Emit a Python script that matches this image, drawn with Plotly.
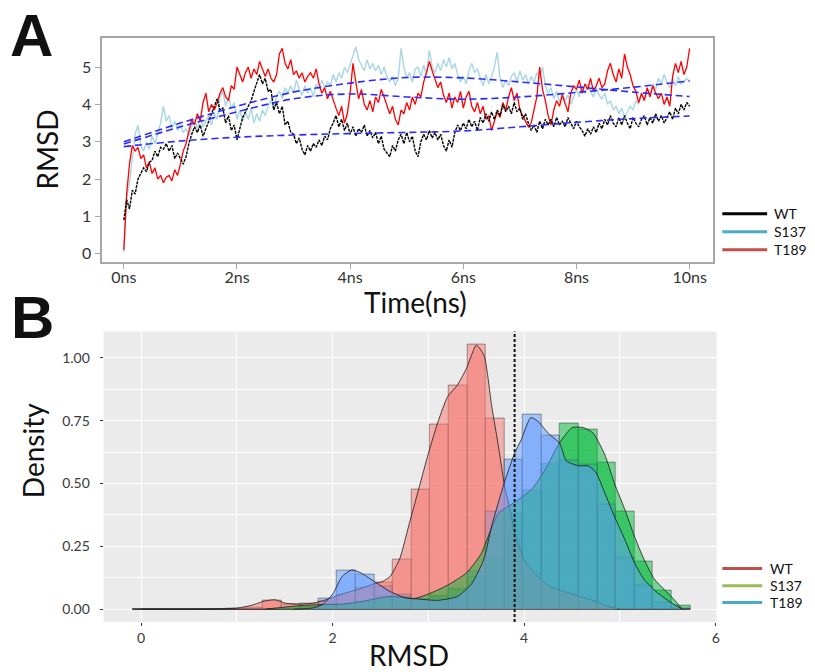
import plotly.graph_objects as go

# ---------------- Panel A data (RMSD vs time) ----------------
time_ns = [round(i * 0.05, 2) for i in range(201)]

rmsd_wt = [0.9, 1.45, 1.2, 1.7, 1.6, 2.0, 2.15, 2.3, 2.2, 2.45,
           2.5, 2.75, 2.6, 2.85, 2.8, 2.95, 2.75, 2.9, 2.55, 2.7,
           2.55, 2.4, 2.6, 2.95, 3.2, 3.4, 3.25, 3.45, 3.15, 3.35,
           3.55, 3.75, 3.95, 4.15, 3.85, 3.9, 3.5, 3.7, 3.3, 3.45,
           3.05, 3.35, 3.65, 3.8, 3.95, 4.1, 4.35, 4.6, 4.8, 4.55,
           4.7, 4.35, 4.4, 3.85, 4.05, 3.75, 3.95, 3.45, 3.55, 3.25,
           3.2, 2.95, 3.1, 2.8, 2.65, 2.9, 2.75, 2.95, 2.85, 3.05,
           2.9, 3.15, 3.05, 3.35, 3.5, 3.7, 3.4, 3.6, 3.3, 3.5,
           3.2, 3.4, 3.15, 3.35, 3.25, 3.45, 3.15, 3.3, 3.1, 3.25,
           2.95, 3.15, 2.8, 2.7, 2.6, 2.9, 2.75, 3.05, 3.2, 2.95,
           3.25, 3.0, 3.15, 2.75, 2.6, 3.0, 3.2, 3.05, 3.3, 3.1,
           3.25, 3.05, 3.2, 2.9, 2.75, 3.05, 2.85, 3.25, 3.45, 3.3,
           3.5, 3.35, 3.6, 3.4, 3.55, 3.3, 3.65, 3.5, 3.75, 3.55,
           3.8, 3.6, 3.85, 3.7, 4.0, 3.8, 3.95, 3.75, 4.05, 3.8,
           3.9, 3.6, 3.75, 3.5, 3.3, 3.45, 3.25, 3.55, 3.35, 3.6,
           3.45, 3.6, 3.4, 3.65, 3.45, 3.55, 3.4, 3.65, 3.5, 3.35,
           3.55, 3.4, 3.3, 3.15, 3.35, 3.2, 3.4, 3.25, 3.5, 3.35,
           3.6, 3.45, 3.7, 3.5, 3.4, 3.65, 3.45, 3.7, 3.5, 3.35,
           3.65, 3.5, 3.4, 3.6, 3.7, 3.45, 3.65, 3.5, 3.75, 3.55,
           3.7, 3.5, 3.65, 3.8, 3.6, 3.9, 3.75, 4.0, 3.85, 4.05,
           3.95]

rmsd_s137 = [0.05, 1.5, 1.9, 2.6, 3.2, 3.45, 2.9, 2.75, 3.0, 2.8,
             3.15, 2.95, 3.25, 3.5, 3.95, 3.55, 3.7, 3.35, 3.55, 3.3,
             3.45, 3.25, 3.35, 3.15, 3.4, 3.6, 3.35, 3.65, 3.4, 3.55,
             3.7, 3.45, 3.75, 3.6, 4.2, 4.35, 3.95, 4.2, 3.9, 4.05,
             3.6, 3.85, 3.55, 3.8, 3.6, 3.9, 3.5, 3.75, 3.55, 3.85,
             3.7, 3.95, 4.1, 3.9, 4.2, 4.35, 4.15, 4.45, 4.3, 4.5,
             4.3, 4.65, 4.4, 4.25, 4.5, 4.3, 4.45, 4.2, 4.55, 4.4,
             4.65, 4.45, 4.6, 4.5, 4.8, 4.6, 4.85, 4.7, 5.0, 4.85,
             5.05, 5.3, 5.55, 5.2, 5.05, 4.9, 5.2, 4.95, 5.1, 4.9,
             5.05, 4.8, 5.0, 4.75, 4.6, 4.75, 4.5, 4.7, 5.5, 5.0,
             4.7, 4.85, 4.6, 4.95, 5.0, 4.75, 5.05, 4.8, 5.45, 5.0,
             4.85, 5.1, 4.9, 5.2, 5.0, 5.25, 4.95, 5.1, 4.8, 4.6,
             4.75, 4.55, 4.9, 5.1, 4.85, 4.95, 4.7, 4.5, 4.8, 4.55,
             4.75, 5.0, 5.4, 4.7, 4.45, 4.65, 4.5, 4.75, 4.85, 4.6,
             4.9, 4.65, 4.8, 4.55, 4.75, 4.6, 4.85, 4.7, 5.0, 4.5,
             4.3, 4.45, 4.15, 4.35, 4.05, 4.3, 4.1, 4.25, 4.0, 4.2,
             4.4, 4.2, 4.5, 4.3, 4.55, 4.35, 4.2, 4.45, 4.25, 4.15,
             4.3, 4.0, 4.1, 3.85, 3.95, 3.75, 3.9, 3.65, 3.8, 3.95,
             3.85, 4.1, 4.0, 4.25, 4.15, 4.4, 4.3, 4.55, 4.4, 4.7,
             4.55, 4.8, 4.6, 4.45, 4.7, 4.5, 4.75, 4.55, 4.6, 4.7,
             4.6]

rmsd_t189 = [0.1, 1.6, 2.4, 2.9, 2.75, 2.85, 2.55, 2.65, 2.3, 2.45,
             2.15, 2.3, 2.0, 2.1, 1.9, 2.05, 2.1, 1.95, 2.25, 2.1,
             2.4, 2.75, 2.95, 3.3, 3.6, 3.45, 3.75, 3.55, 4.05, 4.3,
             3.8, 4.0, 3.85, 4.05, 4.3, 4.45, 4.2, 4.1, 4.5, 4.4,
             5.0, 4.8, 4.6, 4.85, 5.0, 4.7, 4.95, 4.8, 5.15, 4.95,
             4.75, 4.95, 4.7, 4.6, 4.8, 5.35, 5.5, 5.1, 4.95, 5.2,
             4.8, 4.9, 4.7, 4.85, 4.6, 4.75, 4.85, 4.7, 4.95, 4.55,
             4.3, 4.45, 4.15, 4.35, 4.1, 3.9, 3.7, 3.95, 3.5, 3.75,
             4.3, 5.1, 4.6, 4.15, 4.4, 4.0, 3.85, 4.1, 3.8, 4.2,
             4.05, 4.4, 4.2, 4.0, 3.75, 3.95, 3.6, 3.45, 3.85, 3.75,
             4.05, 3.85, 4.2, 4.0, 4.3, 4.2, 4.6, 4.85, 5.15, 4.9,
             4.7, 4.45, 4.6, 4.25, 4.05, 4.3, 3.9, 4.2, 4.05, 4.35,
             3.9, 4.2, 4.35, 3.95, 3.8, 4.05, 3.75, 3.95, 3.6, 3.7,
             3.3, 3.55, 3.8, 3.65, 4.05, 3.85, 4.2, 4.45, 4.1, 4.3,
             3.85, 3.7, 3.55, 3.4, 3.5, 3.9, 4.2, 5.0, 4.4, 4.1,
             3.7, 3.45, 3.85, 4.1, 3.95, 4.25, 4.05, 3.8, 4.3, 4.5,
             4.4, 4.65, 4.3, 4.55, 4.4, 4.7, 4.35, 4.5, 4.7, 4.45,
             4.55, 4.9, 5.1, 4.8, 4.6, 4.95, 4.7, 5.35, 5.0, 4.8,
             4.5, 4.35, 4.05, 4.3, 4.1, 4.45, 4.2, 4.5, 4.3, 4.15,
             4.3, 4.0, 4.2, 3.95, 4.75, 5.1, 4.85, 5.15, 4.8, 5.0,
             5.5]

trend_time = [0, 1, 2, 3, 4, 5, 6, 7, 8, 9, 10]
trend_wt = [2.87, 3.02, 3.12, 3.18, 3.22, 3.25, 3.29, 3.40, 3.52, 3.62, 3.69]
trend_s137 = [3.0, 3.5, 3.95, 4.33, 4.57, 4.72, 4.71, 4.6, 4.47, 4.33, 4.21]
trend_t189 = [2.94, 3.4, 3.8, 4.15, 4.28, 4.2, 4.14, 4.2, 4.32, 4.46, 4.63]

time_ticks = [0, 2, 4, 6, 8, 10]
time_ticklabels = ["0ns", "2ns", "4ns", "6ns", "8ns", "10ns"]

# ---------------- Panel B data (density histograms) ----------------
bin_edges = [-0.089, 0.105, 0.299, 0.493, 0.687, 0.882, 1.076, 1.270, 1.464, 1.658,
             1.852, 2.046, 2.240, 2.434, 2.628, 2.822, 3.017, 3.211, 3.405, 3.599,
             3.793, 3.987, 4.181, 4.375, 4.570, 4.764, 4.958, 5.152, 5.346, 5.540, 5.734]

hist_wt = [0, 0, 0, 0, 0, 0.002, 0.008, 0.035, 0.02, 0.022,
           0.03, 0.055, 0.085, 0.106, 0.199, 0.474, 0.735, 0.890, 1.053, 0.758,
           0.30, 0.14, 0.08, 0.06, 0.03, 0.01, 0, 0, 0, 0]
hist_s137 = [0, 0, 0, 0, 0, 0, 0, 0, 0.003, 0.01,
             0.02, 0.02, 0.03, 0.05, 0.05, 0.04, 0.055, 0.08, 0.13, 0.2,
             0.38, 0.47, 0.58, 0.739, 0.713, 0.583, 0.387, 0.188, 0.075, 0.016]
hist_t189 = [0, 0, 0, 0, 0, 0, 0, 0, 0, 0.008,
             0.044, 0.152, 0.139, 0.09, 0.06, 0.04, 0.045, 0.075, 0.15, 0.387,
             0.596, 0.775, 0.689, 0.59, 0.576, 0.417, 0.205, 0.093, 0.026, 0.004]

dens_wt_x = [0.0, 0.6, 1.0, 1.15, 1.3, 1.4, 1.5, 1.65, 1.8, 1.93, 2.07, 2.27, 2.42, 2.52,
             2.6, 2.7, 2.8, 2.9, 3.0, 3.1, 3.2, 3.3, 3.4, 3.5, 3.58, 3.66, 3.73, 3.8,
             3.85, 3.9, 4.0, 4.1, 4.25, 4.5, 4.75, 4.9, 5.0]
dens_wt_y = [0.0, 0.0, 0.004, 0.015, 0.033, 0.037, 0.024, 0.02, 0.024, 0.037, 0.057, 0.079, 0.099, 0.11,
             0.13, 0.2, 0.34, 0.48, 0.62, 0.745, 0.845, 0.89, 0.96, 1.05, 1.01, 0.81, 0.65, 0.48,
             0.40, 0.305, 0.195, 0.145, 0.093, 0.06, 0.03, 0.008, 0.0]

dens_s137_x = [1.3, 1.5, 1.7, 1.9, 2.1, 2.3, 2.5, 2.6, 2.7, 2.85, 3.0, 3.2, 3.4, 3.55, 3.73,
               3.9, 4.08, 4.22, 4.37, 4.5, 4.62, 4.72, 4.84, 4.94, 5.05, 5.15, 5.25, 5.36,
               5.46, 5.56, 5.65]
dens_s137_y = [0.0, 0.008, 0.015, 0.018, 0.02, 0.03, 0.045, 0.05, 0.048, 0.042, 0.06, 0.095, 0.145, 0.22, 0.38,
               0.425, 0.477, 0.556, 0.662, 0.722, 0.722, 0.70, 0.616, 0.503, 0.397, 0.291, 0.199, 0.119,
               0.079, 0.04, 0.0]

dens_t189_x = [1.6, 1.8, 1.9, 2.0, 2.1, 2.2, 2.3, 2.45, 2.6, 2.75, 2.9, 3.1, 3.3, 3.45, 3.58,
               3.66, 3.79, 3.9, 3.97, 4.07, 4.15, 4.25, 4.37, 4.44, 4.57, 4.67, 4.75, 4.84,
               4.94, 5.05, 5.15, 5.25, 5.39, 5.53, 5.65]
dens_t189_y = [0.0, 0.005, 0.02, 0.06, 0.13, 0.156, 0.143, 0.106, 0.07, 0.046, 0.04, 0.035, 0.05, 0.1, 0.2,
               0.33, 0.5, 0.62, 0.675, 0.762, 0.745, 0.70, 0.66, 0.59, 0.57, 0.57, 0.543, 0.464,
               0.371, 0.278, 0.186, 0.119, 0.066, 0.027, 0.0]

threshold_rmsd = 3.9
density_ticks = [0, 0.25, 0.5, 0.75, 1.0]
density_ticklabels = ["0.00", "0.25", "0.50", "0.75", "1.00"]
rmsd_ticks = [0, 2, 4, 6]

groups = ["WT", "S137", "T189"]

# ---------------- styling / layout helpers ----------------
FONT = "Lato"
W, H = 815, 672


def px(x):
    return x / W


def py(y):
    return 1 - y / H


fig = go.Figure()

# Panel A traces
line_specs = [
    (rmsd_s137, "#a9d6e5", None, 1.4),
    (rmsd_t189, "#ff0000", None, 1.3),
    (rmsd_wt, "#000000", "3px,1px", 1.4),
]
for vals, col, dash, wd in line_specs:
    fig.add_trace(go.Scatter(x=time_ns, y=vals, mode="lines",
                             line=dict(color=col, width=wd, dash=dash),
                             xaxis="x", yaxis="y", hoverinfo="skip"))
for tr in (trend_wt, trend_s137, trend_t189):
    fig.add_trace(go.Scatter(x=trend_time, y=tr, mode="lines",
                             line=dict(color="#2b2bff", width=1.6, dash="7px,4px", shape="spline"),
                             xaxis="x", yaxis="y", hoverinfo="skip"))

# Panel B: histograms
centers = [(bin_edges[i] + bin_edges[i + 1]) / 2 for i in range(len(bin_edges) - 1)]
widths = [bin_edges[i + 1] - bin_edges[i] for i in range(len(bin_edges) - 1)]
hist_cols = ["rgba(248,118,109,0.5)", "rgba(0,186,56,0.5)", "rgba(97,156,255,0.5)"]
for vals, col in zip((hist_wt, hist_s137, hist_t189), hist_cols):
    fig.add_trace(go.Bar(x=centers, y=vals, width=widths, marker=dict(color=col,
                         line=dict(color="rgba(40,40,40,0.55)", width=0.8)),
                         xaxis="x2", yaxis="y2", hoverinfo="skip"))

# baseline of zero-height bins
fig.add_trace(go.Scatter(x=[bin_edges[0], bin_edges[-1]], y=[0, 0], mode="lines",
                         line=dict(color="rgba(30,30,30,0.6)", width=0.8),
                         xaxis="x2", yaxis="y2", hoverinfo="skip"))

dens_cols = ["rgba(248,118,109,0.5)", "rgba(0,186,56,0.5)", "rgba(97,156,255,0.5)"]
for xs, ys, col in zip((dens_wt_x, dens_s137_x, dens_t189_x),
                       (dens_wt_y, dens_s137_y, dens_t189_y), dens_cols):
    fig.add_trace(go.Scatter(x=xs, y=ys, mode="lines", fill="tozeroy", fillcolor=col,
                             line=dict(color="rgba(20,20,20,0.85)", width=0.9, shape="spline",
                                       smoothing=0.6),
                             xaxis="x2", yaxis="y2", hoverinfo="skip"))

axA = dict(showline=True, mirror=True, linecolor="#a6a6a6", linewidth=1.5,
           ticks="outside", ticklen=6, tickcolor="#a6a6a6", tickwidth=1.2,
           showgrid=False, zeroline=False,
           tickfont=dict(family=FONT, size=16, color="#333333"))

fig.update_layout(
    width=W, height=H, autosize=False,
    margin=dict(l=0, r=0, t=0, b=0),
    paper_bgcolor="white", plot_bgcolor="white",
    showlegend=False, barmode="overlay", bargap=0,
    xaxis=dict(domain=[px(102.7), px(716)], range=[-0.38, 10.42], anchor="y",
               tickvals=time_ticks, ticktext=time_ticklabels, ticklabelstandoff=-6, **axA),
    yaxis=dict(domain=[py(262), py(38)], range=[-0.21, 5.78], anchor="x",
               tickvals=[0, 1, 2, 3, 4, 5], **axA),
    xaxis2=dict(domain=[px(104), px(719.3)], range=[-0.392, 6.01], anchor="y2",
                tickvals=rmsd_ticks, showgrid=True, gridcolor="white", gridwidth=1.2,
                minor=dict(dtick=1, tick0=0, showgrid=True, gridcolor="white", gridwidth=0.6),
                ticks="outside", ticklen=3, tickcolor="#333333", zeroline=False, showline=False,
                tickfont=dict(family=FONT, size=14, color="#3a3a3a")),
    yaxis2=dict(domain=[py(623), py(332)], range=[-0.0516, 1.1045], anchor="x2",
                tickvals=density_ticks, ticktext=density_ticklabels,
                showgrid=True, gridcolor="white", gridwidth=1.2,
                minor=dict(dtick=0.125, tick0=0, showgrid=True, gridcolor="white", gridwidth=0.6),
                ticks="outside", ticklen=3, tickcolor="#333333", zeroline=False, showline=False,
                ticklabelstandoff=7,
                tickfont=dict(family=FONT, size=14, color="#3a3a3a")),
)

shapes = [
    dict(type="rect", xref="x2 domain", yref="y2 domain", x0=0, x1=1, y0=0, y1=1,
         fillcolor="#EBEBEB", line=dict(width=0), layer="below"),
    dict(type="line", xref="x2", yref="y2 domain", x0=threshold_rmsd, x1=threshold_rmsd,
         y0=0, y1=1, line=dict(color="#111111", width=2, dash="3px,2px"), layer="above"),
]

# Legends (drawn manually)
legA_cols = ["#000000", "#4bacc6", "#c0504d"]
legA_y = [214, 232, 250]
legB_cols = ["#c0504d", "#9bbb59", "#4bacc6"]
legB_y = [569.3, 586.7, 603.3]
annotations = []
for name, col, yy in zip(groups, legA_cols, legA_y):
    shapes.append(dict(type="line", xref="paper", yref="paper", x0=px(725), x1=px(770),
                       y0=py(yy), y1=py(yy), line=dict(color=col, width=3)))
    annotations.append(dict(text=name, xref="paper", yref="paper", x=px(775), y=py(yy),
                            xanchor="left", yanchor="middle", showarrow=False,
                            font=dict(family=FONT, size=14, color="#111111")))
for name, col, yy in zip(groups, legB_cols, legB_y):
    shapes.append(dict(type="line", xref="paper", yref="paper", x0=px(725), x1=px(765),
                       y0=py(yy), y1=py(yy), line=dict(color=col, width=3)))
    annotations.append(dict(text=name, xref="paper", yref="paper", x=px(771), y=py(yy),
                            xanchor="left", yanchor="middle", showarrow=False,
                            font=dict(family=FONT, size=14, color="#111111")))

titles = [
    ("A", 31.5, 36, 0, 60, "Liberation Sans", "bold"),
    ("B", 33, 318, 0, 60, "Liberation Sans", "bold"),
    ("RMSD", 47, 150, -90, 28, FONT, "normal"),
    ("Time(ns)", 417, 302, 0, 28, FONT, "normal"),
    ("Density", 33, 451, -90, 28, FONT, "normal"),
    ("RMSD", 411, 656, 0, 28, FONT, "normal"),
]
for txt, xx, yy, ang, size, fam, weight in titles:
    annotations.append(dict(text=txt, xref="paper", yref="paper", x=px(xx), y=py(yy),
                            xanchor="center", yanchor="middle", showarrow=False, textangle=ang,
                            font=dict(family=fam, size=size, color="#111111", weight=weight)))

fig.update_layout(shapes=shapes, annotations=annotations)
fig.write_html("out.html", config={"displayModeBar": False},
               post_script="document.body.style.margin='0';document.body.style.overflow='hidden';")
